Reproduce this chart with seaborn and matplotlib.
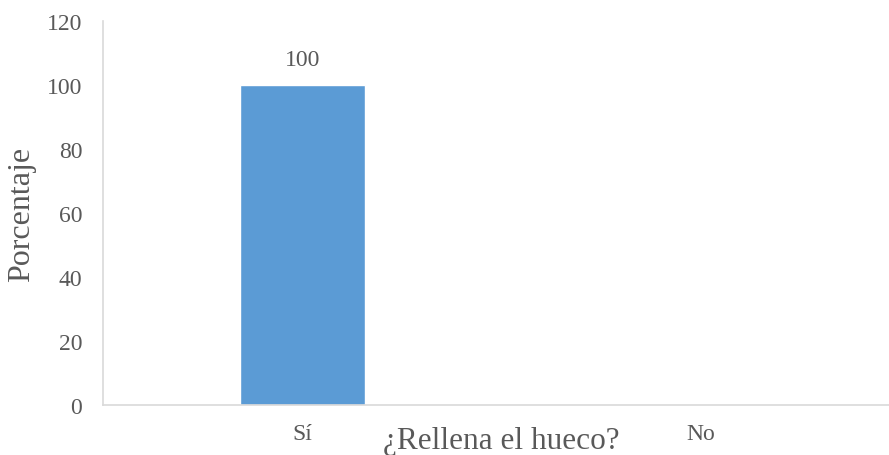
import matplotlib
matplotlib.use("Agg")
import matplotlib.pyplot as plt
import seaborn as sns
import pandas as pd

categories = ["Sí", "No"]
values = [100, 0]
y_ticks = [0, 20, 40, 60, 80, 100, 120]
x_title = "¿Rellena el hueco?"
y_title = "Porcentaje"

sns.set_style("white")
plt.rcParams['font.family'] = ['Liberation Serif', 'DejaVu Serif']

text_color = "#595959"
df = pd.DataFrame({"cat": categories, "val": values})

fig = plt.figure(figsize=(8.89, 4.56), dpi=100)
left_px, right_px, top_px, bottom_px = 103, 900, 22, 406
ax = fig.add_axes([left_px/889, 1-bottom_px/456, (right_px-left_px)/889, (bottom_px-top_px)/456])
sns.barplot(data=df, x="cat", y="val", color="#5b9bd5", saturation=1, width=0.313, ax=ax)

ax.set_ylim(0, 120)
ax.set_yticks(y_ticks)
ax.set_yticklabels([str(t) for t in y_ticks])
ax.tick_params(axis="y", length=0, pad=15, labelsize=17, labelcolor=text_color)
ax.tick_params(axis="x", length=0, pad=13, labelsize=17, labelcolor=text_color)

for s in ["top", "right"]:
    ax.spines[s].set_visible(False)
for s in ["left", "bottom"]:
    ax.spines[s].set_color("#d9d9d9")
    ax.spines[s].set_linewidth(1.2)

ax.bar_label(ax.containers[0], labels=[str(v) if v else "" for v in values],
             padding=11, fontsize=17, color=text_color)

ax.set_xlabel(x_title, fontsize=22.5, color=text_color)
ax.set_ylabel(y_title, fontsize=23, color=text_color)
ax.xaxis.set_label_coords(0.5 - (900 - 889) / 2 / (right_px - left_px) + 5 / (right_px - left_px), -0.055)
ax.xaxis.label.set_va("top")
ax.yaxis.set_label_coords((36 - left_px) / (right_px - left_px), 0.5)

fig.savefig("out.png", dpi=100)
